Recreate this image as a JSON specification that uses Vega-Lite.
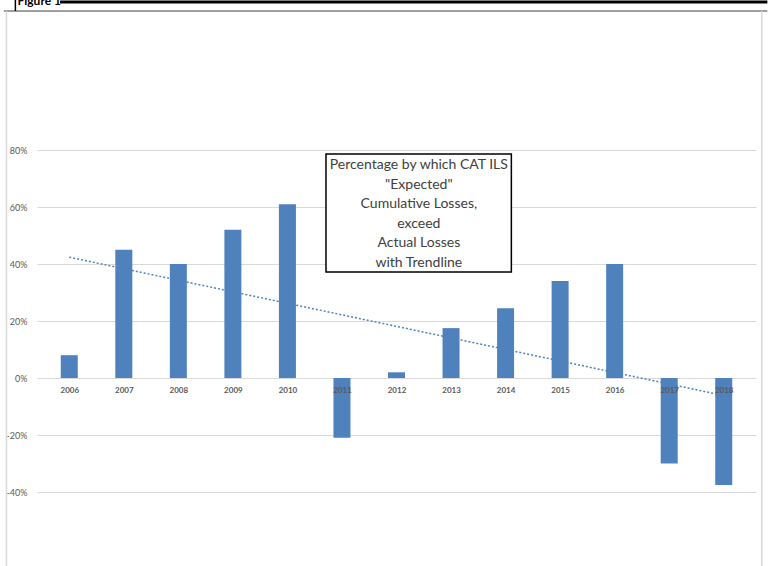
{
  "$schema": "https://vega.github.io/schema/vega-lite/v6.json",
  "autosize": {"type": "none"},
  "width": 719,
  "height": 456,
  "padding": {"left": 37, "top": 93, "right": 13, "bottom": 17},
  "background": "white",
  "config": {"view": {"stroke": null}, "font": "Lato"},
  "datasets": {
    "losses": [
      {"year": 2006, "value": 0.08},
      {"year": 2007, "value": 0.45},
      {"year": 2008, "value": 0.40},
      {"year": 2009, "value": 0.52},
      {"year": 2010, "value": 0.61},
      {"year": 2011, "value": -0.21},
      {"year": 2012, "value": 0.02},
      {"year": 2013, "value": 0.175},
      {"year": 2014, "value": 0.245},
      {"year": 2015, "value": 0.34},
      {"year": 2016, "value": 0.40},
      {"year": 2017, "value": -0.30},
      {"year": 2018, "value": -0.375}
    ],
    "box": [{"x": 2010.707, "x2": 2014.106, "y": 0.786, "y2": 0.372}],
    "note": [{"x": 2012.41, "y": 0.747, "label": "Percentage by which CAT ILS\n\"Expected\"\nCumulative Losses,\nexceed\nActual Losses\nwith Trendline"}],
    "topline": [{"x": 2005.83, "x2": 2018.8, "y": 1.3193, "y2": 1.3193}],
    "greyline": [{"x": 2004.8, "x2": 2018.8, "y": 1.2877, "y2": 1.2877}],
    "tick": [{"x": 2005.012, "x2": 2005.012, "y": 1.33, "y2": 1.2877}],
    "sides": [
      {"x": 2004.849, "x2": 2004.849, "y": 1.2877, "y2": -0.75},
      {"x": 2018.698, "x2": 2018.698, "y": 1.2877, "y2": -0.75}
    ],
    "fig": [{"x": 2005.05, "y": 1.3105, "label": "Figure 1"}]
  },
  "layer": [
    {
      "data": {"name": "losses"},
      "mark": {"type": "bar", "size": 17, "color": "#4f81bd"},
      "encoding": {
        "x": {
          "field": "year", "type": "quantitative",
          "scale": {"domain": [2005.5, 2018.5], "nice": false, "zero": false},
          "axis": {
            "values": [2006, 2007, 2008, 2009, 2010, 2011, 2012, 2013, 2014, 2015, 2016, 2017, 2018],
            "format": "d", "title": null, "domain": false, "ticks": false, "grid": false,
            "offset": -171, "labelPadding": 8, "labelFontWeight": "bold", "zindex": 1,
            "labelFontSize": 8, "labelColor": "#595959", "labelFlush": false
          }
        },
        "y": {
          "field": "value", "type": "quantitative",
          "scale": {"domain": [-0.6, 1.0], "nice": false, "zero": false},
          "axis": {
            "values": [-0.4, -0.2, 0, 0.2, 0.4, 0.6, 0.8],
            "format": ".0%", "labelExpr": "replace(datum.label, '−', '-')",
            "title": null, "domain": false, "ticks": false, "grid": true,
            "gridColor": "#d9d9d9", "gridWidth": 1, "labelPadding": 10,
            "labelFontSize": 9, "labelColor": "#595959"
          }
        }
      }
    },
    {
      "data": {"name": "losses"},
      "transform": [{"regression": "value", "on": "year"}],
      "mark": {"type": "line", "color": "#4f81bd", "strokeWidth": 1.5, "strokeDash": [2, 2]},
      "encoding": {
        "x": {"field": "year", "type": "quantitative"},
        "y": {"field": "value", "type": "quantitative"}
      }
    },
    {
      "data": {"name": "box"},
      "mark": {"type": "rect", "fill": "white", "stroke": "black", "strokeWidth": 1.5},
      "encoding": {
        "x": {"field": "x", "type": "quantitative"},
        "x2": {"field": "x2"},
        "y": {"field": "y", "type": "quantitative"},
        "y2": {"field": "y2"}
      }
    },
    {
      "data": {"name": "note"},
      "mark": {"type": "text", "align": "center", "baseline": "middle", "lineBreak": "\n", "lineHeight": 19.6, "fontSize": 14, "color": "#404040"},
      "encoding": {
        "x": {"field": "x", "type": "quantitative"},
        "y": {"field": "y", "type": "quantitative"},
        "text": {"field": "label"}
      }
    },
    {
      "data": {"name": "topline"},
      "mark": {"type": "rule", "color": "black", "strokeWidth": 3},
      "encoding": {
        "x": {"field": "x", "type": "quantitative"},
        "x2": {"field": "x2"},
        "y": {"field": "y", "type": "quantitative"},
        "y2": {"field": "y2"}
      }
    },
    {
      "data": {"name": "greyline"},
      "mark": {"type": "rule", "color": "#7f7f7f", "strokeWidth": 1.5},
      "encoding": {
        "x": {"field": "x", "type": "quantitative"},
        "x2": {"field": "x2"},
        "y": {"field": "y", "type": "quantitative"},
        "y2": {"field": "y2"}
      }
    },
    {
      "data": {"name": "tick"},
      "mark": {"type": "rule", "color": "black", "strokeWidth": 1.5},
      "encoding": {
        "x": {"field": "x", "type": "quantitative"},
        "x2": {"field": "x2"},
        "y": {"field": "y", "type": "quantitative"},
        "y2": {"field": "y2"}
      }
    },
    {
      "data": {"name": "sides"},
      "mark": {"type": "rule", "color": "#d9d9d9", "strokeWidth": 1.5},
      "encoding": {
        "x": {"field": "x", "type": "quantitative"},
        "x2": {"field": "x2"},
        "y": {"field": "y", "type": "quantitative"},
        "y2": {"field": "y2"}
      }
    },
    {
      "data": {"name": "fig"},
      "mark": {"type": "text", "align": "left", "baseline": "alphabetic", "fontSize": 12, "fontWeight": "bold", "color": "black"},
      "encoding": {
        "x": {"field": "x", "type": "quantitative"},
        "y": {"field": "y", "type": "quantitative"},
        "text": {"field": "label"}
      }
    }
  ]
}
